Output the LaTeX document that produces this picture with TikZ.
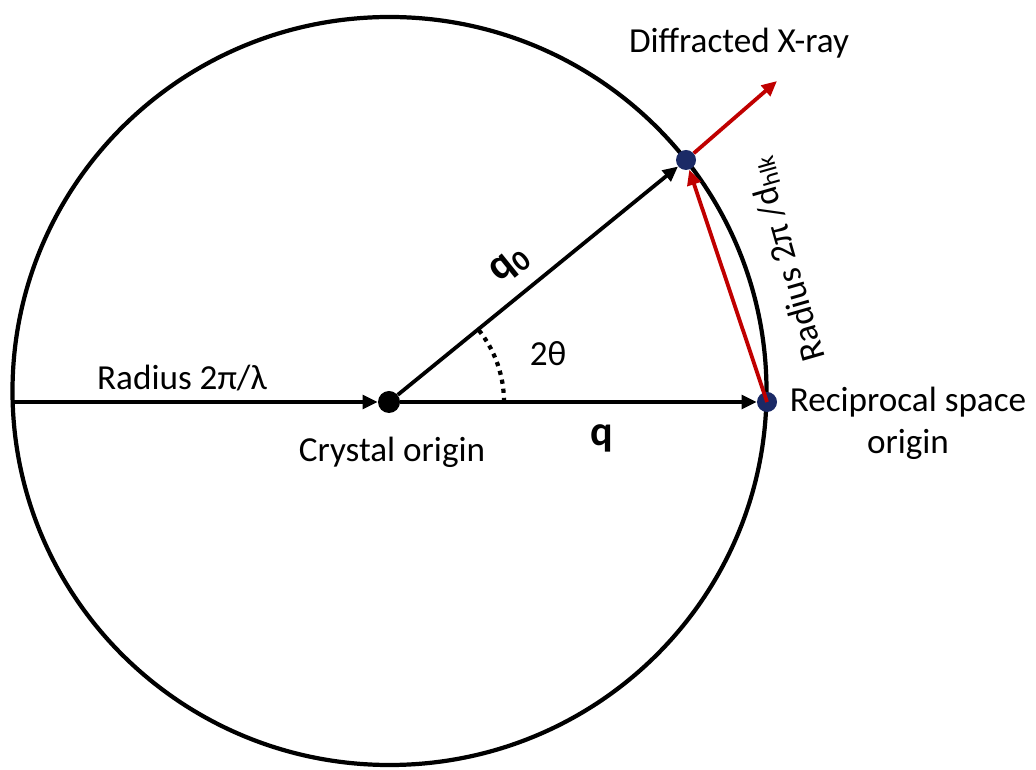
\documentclass[tikz,border=0pt]{standalone}
\usepackage{fontspec}
\setmainfont{Carlito}
\usetikzlibrary{arrows.meta}
\definecolor{rayRed}{HTML}{C00000}
\definecolor{spotNavy}{HTML}{1B2A66}

\begin{document}
\begin{tikzpicture}[x=0.025cm, y=0.025cm,
    every node/.style={font=\fontsize{25}{30}\selectfont},
    vec/.style={line width=2.7pt, -{Triangle[length=0.38cm, width=0.34cm]}},
    xray/.style={vec, rayRed},
    dot/.style={circle, fill=black, inner sep=0pt, minimum size=0.55cm},
    spotdot/.style={dot, fill=spotNavy, minimum size=0.5cm},
    qlabel/.style={font=\fontsize{30}{36}\selectfont\bfseries}
  ]
  % Frame
  \useasboundingbox (0,0) rectangle (1036,769);

  % Ewald sphere
  \draw[line width=3pt] (389.5,378) ellipse [x radius=377, y radius=374];

  % Points
  \coordinate (edge) at (13,367);
  \node[dot] (crystal) at (389,367) {};
  \node[spotdot] (recip) at (767,367) {};
  \node[spotdot] (spot) at (686,609) {};
  \coordinate (out) at (777,688);

  % Vectors
  \draw[vec] (edge) -- (crystal);
  \draw[vec] (crystal) -- (recip);
  \draw[vec] (crystal) -- (spot);
  \draw[xray] (recip.center) -- (spot);
  \draw[xray] (spot) -- (out);

  % Angle
  \draw[line width=3pt, dash pattern=on 3pt off 3.5pt]
    (crystal.center) ++(115,0) arc [start angle=0, end angle=39, radius=115];

  % Labels
  \node at (739,726) {Diffracted X-ray};
  \node at (182,391) {Radius 2π/λ};
  \node at (392,317) {Crystal origin};
  \node[align=center] at (908,346) {Reciprocal space\\origin};
  \node at (548,415) {2θ};
  \node[qlabel] at (602,331) {q};
  \node[qlabel, rotate=39] at (510,504) {q\textsubscript{0}};
  \node[rotate=106] at (787,510) {Radius 2π /d\textsubscript{hlk}};
\end{tikzpicture}
\end{document}
